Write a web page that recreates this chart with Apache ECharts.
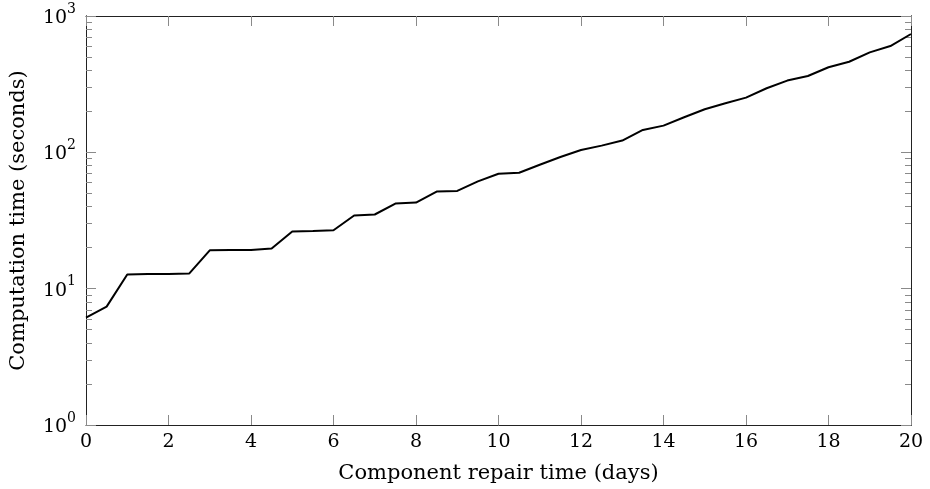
<!DOCTYPE html>
<html>
<head>
<meta charset="utf-8">
<script src="https://cdn.jsdelivr.net/npm/echarts@6/dist/echarts.min.js"></script>
<style>html,body{margin:0;padding:0;background:#fff;}#c{width:930px;height:489px;}</style>
</head>
<body>
<div id="c"></div>
<script>
// Data
const repairDays = [0,0.5,1,1.5,2,2.5,3,3.5,4,4.5,5,5.5,6,6.5,7,7.5,8,8.5,9,9.5,10,10.5,11,11.5,12,12.5,13,13.5,14,14.5,15,15.5,16,16.5,17,17.5,18,18.5,19,19.5,20];
const computeSeconds = [6.14,7.38,12.7,12.8,12.8,12.9,19.1,19.2,19.2,19.7,26.3,26.5,26.8,34.4,35.0,42.1,42.8,51.5,52.1,61.2,69.7,70.9,81.1,92.4,104,112,122,146,157,181,207,229,252,295,336,363,421,462,541,602,738];
const xTicks = [0,2,4,6,8,10,12,14,16,18,20];
const yMajorTicks = [1,10,100,1000];
const yMinorTicks = [2,3,4,5,6,7,8,9,20,30,40,50,60,70,80,90,200,300,400,500,600,700,800,900];

const FONT = 'DejaVu Serif';
const lineCol = '#222';
const tickCol = '#8a8a8a';

function yAxisBase(pos, ticks, len, showLabel) {
  return {
    type: 'log', logBase: 10, min: 1, max: 1000, position: pos,
    axisLine: {show: true, lineStyle: {color: lineCol, width: 1}},
    axisTick: {show: true, inside: true, length: len, customValues: ticks, lineStyle: {color: tickCol, width: 1}},
    axisLabel: {show: showLabel, customValues: yMajorTicks, margin: 10, fontFamily: FONT, color: '#000',
      formatter: v => '{b|10}{s|' + Math.round(Math.log10(v)) + '}',
      rich: {b: {fontSize: 19, fontFamily: FONT, color: '#000', padding: [4,0,0,0]}, s: {fontSize: 14, fontFamily: FONT, color: '#000', padding: [0,0,14,0]}}},
    splitLine: {show: false}, minorTick: {show: false}
  };
}

const yAxes = [
  Object.assign(yAxisBase('left', yMajorTicks, 10, true), {
    name: 'Computation time (seconds)', nameLocation: 'middle', nameGap: 57,
    nameTextStyle: {fontFamily: FONT, fontSize: 21, color: '#000'}
  }),
  yAxisBase('left', yMinorTicks, 6, false),
  yAxisBase('right', yMajorTicks, 10, false),
  yAxisBase('right', yMinorTicks, 6, false)
];

const xAxisBase = (pos, showLabel) => ({
  type: 'value', min: 0, max: 20, interval: 2, position: pos,
  axisLine: {show: true, lineStyle: {color: lineCol, width: 1}},
  axisTick: {show: true, inside: true, length: 10, customValues: xTicks, lineStyle: {color: tickCol, width: 1}},
  axisLabel: {show: showLabel, customValues: xTicks, margin: 8, fontFamily: FONT, fontSize: 19, color: '#000'},
  splitLine: {show: false}
});

const chart = echarts.init(document.getElementById('c'), null, {renderer: 'canvas'});
chart.setOption({
  animation: false,
  backgroundColor: '#fff',
  grid: {left: 85, right: 19, top: 16, bottom: 63, containLabel: false},
  xAxis: [
    Object.assign(xAxisBase('bottom', true), {
      name: 'Component repair time (days)', nameLocation: 'middle', nameGap: 38,
      nameTextStyle: {fontFamily: FONT, fontSize: 21, color: '#000'}
    }),
    xAxisBase('top', false)
  ],
  yAxis: yAxes,
  series: [{
    type: 'line', xAxisIndex: 0, yAxisIndex: 0,
    data: repairDays.map((d, i) => [d, computeSeconds[i]]),
    showSymbol: false, symbol: 'none',
    lineStyle: {color: '#000', width: 2}, itemStyle: {color: '#000'}
  }]
});
</script>
</body>
</html>
